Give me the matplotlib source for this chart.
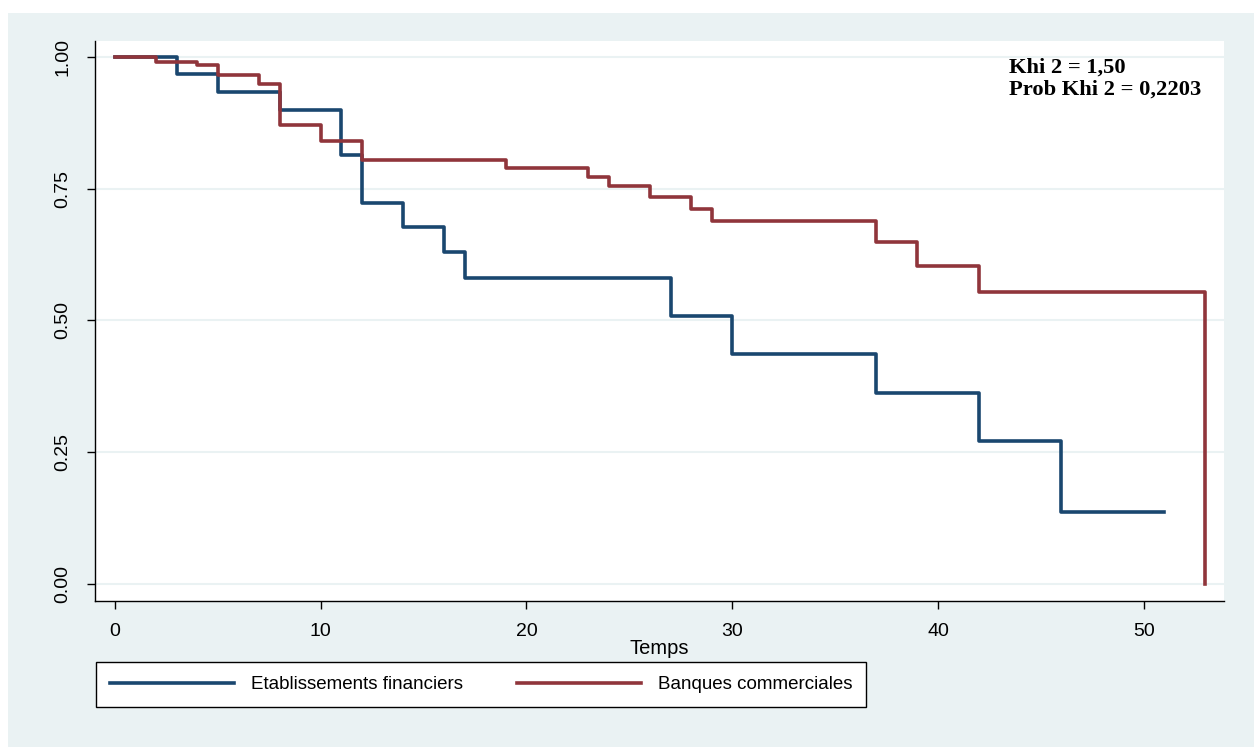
import matplotlib
matplotlib.use('Agg')
import matplotlib.pyplot as plt
from matplotlib.patches import Rectangle

# Kaplan-Meier estimates
etab_temps = [0, 3, 5, 8, 11, 12, 14, 16, 17, 27, 30, 37, 42, 46, 51]
etab_surv = [1.0, 0.967, 0.933, 0.900, 0.813, 0.722, 0.678, 0.630, 0.581,
             0.508, 0.436, 0.363, 0.272, 0.136, 0.136]

banq_temps = [0, 2, 4, 5, 7, 8, 10, 12, 19, 23, 24, 26, 28, 29, 37, 39, 42, 53]
banq_surv = [1.0, 0.991, 0.985, 0.966, 0.949, 0.870, 0.841, 0.805, 0.789,
             0.773, 0.755, 0.734, 0.711, 0.689, 0.648, 0.604, 0.554, 0.0]

x_ticks = [0, 10, 20, 30, 40, 50]
y_ticks = [0.0, 0.25, 0.5, 0.75, 1.0]
y_labels = ['0.00', '0.25', '0.50', '0.75', '1.00']
labels = ['Etablissements financiers', 'Banques commerciales']

BLUE = '#1A476F'
RED = '#90353B'
BG = '#EAF2F3'

plt.rcParams['font.family'] = ['Liberation Sans', 'DejaVu Sans']

fig = plt.figure(figsize=(12.54, 7.47), dpi=100, facecolor='white')
# light bluish-gray graph region
fig.patches.append(Rectangle((8 / 1254, 0), 1 - 8 / 1254, 1 - 13 / 747,
                             transform=fig.transFigure, facecolor=BG,
                             edgecolor='none', zorder=0))

ax = fig.add_axes([95 / 1254, 146 / 747, 1129 / 1254, 560 / 747])
ax.set_zorder(1)
ax.set_facecolor('white')

l1, = ax.step(etab_temps, etab_surv, where='post', color=BLUE, lw=2.6)
l2, = ax.step(banq_temps, banq_surv, where='post', color=RED, lw=2.6)

ax.set_xlim(-0.97, 53.9)
ax.set_ylim(-0.032, 1.03)
ax.set_xticks(x_ticks)
ax.set_yticks(y_ticks)
ax.set_yticklabels(y_labels, rotation=90, va='center')
ax.tick_params(axis='both', labelsize=14, length=6, width=1, colors='black')
ax.tick_params(axis='y', pad=11)
ax.tick_params(axis='x', pad=10)
ax.grid(axis='y', color=BG, lw=1.5)
ax.set_axisbelow(True)

for s in ['top', 'right']:
    ax.spines[s].set_visible(False)
for s in ['left', 'bottom']:
    ax.spines[s].set_linewidth(1)
    ax.spines[s].set_color('black')

ax.set_xlabel('Temps', fontsize=14.5, labelpad=-1)

fig.text(1009 / 1254, 1 - 68 / 747, 'Khi 2 = 1,50', family='Liberation Serif',
         fontweight='bold', fontsize=16.2, va='center', ha='left', zorder=3)
fig.text(1009 / 1254, 1 - 90 / 747, 'Prob Khi 2 = 0,2203', family='Liberation Serif',
         fontweight='bold', fontsize=16.2, va='center', ha='left', zorder=3)

leg = fig.legend([l1, l2], labels, loc='upper left', ncol=2,
                 bbox_to_anchor=(96 / 1254, 1 - 662 / 747),
                 fontsize=13.5, frameon=True, fancybox=False, edgecolor='black',
                 framealpha=1, handlelength=6.6, handletextpad=0.9,
                 columnspacing=2.9, borderpad=0.75, borderaxespad=0)
leg.get_frame().set_linewidth(1)
leg.set_zorder(3)

fig.savefig('out.png', dpi=100, facecolor='white')
